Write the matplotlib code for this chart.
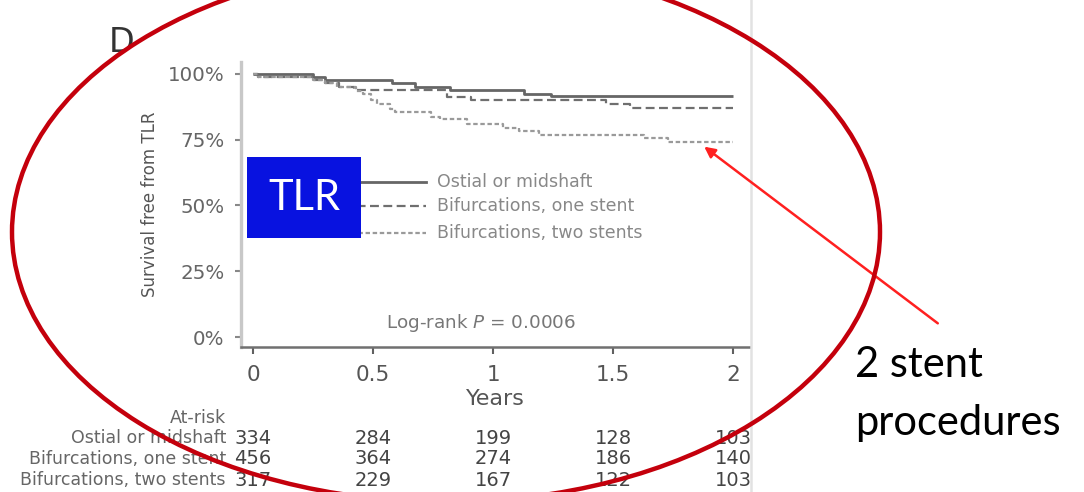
import matplotlib
matplotlib.use("Agg")
import matplotlib.pyplot as plt
from matplotlib.patches import Ellipse, Rectangle, FancyArrowPatch
from matplotlib.lines import Line2D

plt.rcParams['font.family'] = ['DejaVu Sans']
plt.rcParams['mathtext.fontset'] = 'dejavusans'

# ---------------- data ----------------
years_ostial = [0, 0.25, 0.30, 0.58, 0.675, 0.82, 1.13, 1.24, 2.0]
surv_ostial = [100, 98.7, 97.7, 96.5, 95.0, 93.9, 92.3, 91.8, 91.8]

years_one = [0, 0.02, 0.25, 0.30, 0.36, 0.42, 0.81, 0.91, 1.47, 1.57, 2.0]
surv_one = [100, 98.7, 97.7, 96.5, 95.0, 93.9, 91.4, 90.1, 88.5, 87.2, 87.2]

years_two = [0, 0.02, 0.25, 0.30, 0.35, 0.43, 0.46, 0.49, 0.515, 0.57, 0.59,
             0.74, 0.78, 0.89, 1.04, 1.11, 1.19, 1.63, 1.73, 2.0]
surv_two = [100, 98.7, 97.7, 96.5, 95.0, 93.5, 92.3, 90.1, 88.5, 86.5, 85.5,
            83.8, 82.9, 80.9, 79.6, 78.3, 76.7, 75.6, 74.3, 74.3]

series_names = ["Ostial or midshaft", "Bifurcations, one stent", "Bifurcations, two stents"]

x_ticks = [0, 0.5, 1, 1.5, 2]
x_ticklabels = ["0", "0.5", "1", "1.5", "2"]
y_ticks = [0, 25, 50, 75, 100]
y_ticklabels = ["0%", "25%", "50%", "75%", "100%"]

at_risk_ostial = [334, 284, 199, 128, 103]
at_risk_one = [456, 364, 274, 186, 140]
at_risk_two = [317, 229, 167, 122, 103]

# ---------------- figure ----------------
W, H = 1084, 492
fig = plt.figure(figsize=(W / 100, H / 100), dpi=100)


def fx(x):
    return x / W


def fy(y):
    return 1 - y / H


ax_l, ax_r, ax_t, ax_b = 241, 750, 62, 347
ax = fig.add_axes([fx(ax_l), fy(ax_b), (ax_r - ax_l) / W, (ax_b - ax_t) / H])
ax.set_xlim(-0.05, 2.0708)
ax.set_ylim(-3.8, 104.56)

ax.step(years_ostial, surv_ostial, where='post', color='#666666', lw=2.0,
        solid_capstyle='butt')
ax.step(years_one, surv_one, where='post', color='#6f6f6f', lw=1.6,
        linestyle=(0, (4, 2)))
ax.step(years_two, surv_two, where='post', color='#9a9a9a', lw=1.6,
        linestyle=(0, (2, 1.2)))

for s in ['top', 'right']:
    ax.spines[s].set_visible(False)
ax.spines['left'].set_color('#c8c8c8')
ax.spines['left'].set_linewidth(2.4)
ax.spines['bottom'].set_color('#707070')
ax.spines['bottom'].set_linewidth(1.8)

ax.set_xticks(x_ticks)
ax.set_xticklabels(x_ticklabels, fontsize=15.5, color='#555555')
ax.set_yticks(y_ticks)
ax.set_yticklabels(y_ticklabels, fontsize=14.3, color='#666666')
ax.tick_params(axis='x', length=5, width=1.5, color='#606060', pad=8)
ax.tick_params(axis='y', length=4, width=1.5, color='#888888', pad=8)

ax.set_xlabel("Years", fontsize=16, color='#555555', labelpad=3)
ax.set_ylabel("Survival free from TLR", fontsize=12, color='#555555', labelpad=6)

ax.text(0.95, 5.5, "Log-rank $P$ = 0.0006", fontsize=13.2, color='#777777',
        ha='center', va='center')

# legend (manual)
leg_y = [182, 206, 233]
leg_styles = [dict(color='#666666', lw=2.0, linestyle='-'),
              dict(color='#6f6f6f', lw=1.6, linestyle=(0, (4, 2))),
              dict(color='#9a9a9a', lw=1.6, linestyle=(0, (2, 1.2)))]
for yy, name, st in zip(leg_y, series_names, leg_styles):
    fig.add_artist(Line2D([fx(330), fx(426)], [fy(yy), fy(yy)], transform=fig.transFigure, **st))
    fig.text(fx(437), fy(yy), name, fontsize=12.5, color='#888888', ha='left', va='center')

# TLR box
fig.add_artist(Rectangle((fx(247), fy(238)), (361 - 247) / W, (238 - 157) / H,
                         transform=fig.transFigure, facecolor='#0812E0', edgecolor='none', zorder=5))
fig.text(fx(304), fy(198), "TLR", fontsize=30, color='white', family='Lato',
         ha='center', va='center', zorder=6)

# panel label
fig.text(fx(109), fy(52), "D", fontsize=24, color='#333333', ha='left', va='baseline')

# at-risk table
fig.text(fx(226), fy(418), "At-risk", fontsize=12.5, color='#666666', ha='right', va='center')
row_y = [438, 459, 480]
for yy, name, vals in zip(row_y, series_names, [at_risk_ostial, at_risk_one, at_risk_two]):
    fig.text(fx(226), fy(yy), name, fontsize=12.5, color='#666666', ha='right', va='center')
    for t, v in zip(x_ticks, vals):
        xd = ax.transData.transform((t, 0))[0]
        fig.text(xd / W, fy(yy), str(v), fontsize=14, color='#444444', ha='center', va='center')

# right border line
fig.add_artist(Line2D([fx(751), fx(751)], [0, 1], transform=fig.transFigure, color='#e2e2e2', lw=1.8))

# annotation
fig.text(fx(855), fy(377), "2 stent", fontsize=30, family='Lato', color='black',
         ha='left', va='baseline')
fig.text(fx(855), fy(435), "procedures", fontsize=30, family='Lato', color='black',
         ha='left', va='baseline')

fig.add_artist(FancyArrowPatch((fx(940), fy(325)), (fx(702), fy(145)), transform=fig.transFigure,
                               arrowstyle='-|>', mutation_scale=16, color='#ff2020', lw=1.8, zorder=7))

fig.add_artist(Ellipse((fx(446), fy(232)), 868 / W, 540 / H, transform=fig.transFigure,
                       facecolor='none', edgecolor='#c4000c', lw=3.2, zorder=8))

fig.savefig("out.png", dpi=100)
